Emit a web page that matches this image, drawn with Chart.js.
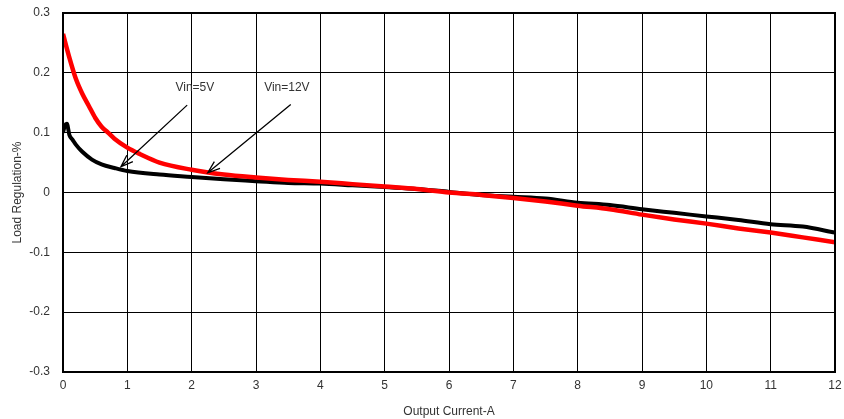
<!DOCTYPE html>
<html>
<head>
<meta charset="utf-8">
<script src="https://cdn.jsdelivr.net/npm/chart.js@4/dist/chart.umd.min.js"></script>
<style>
  html, body { margin: 0; padding: 0; background: #fff; }
  #wrap { width: 844px; height: 419px; }
</style>
</head>
<body>
<div id="wrap"><canvas id="regChart" width="844" height="419"></canvas></div>
<script>
// ---- Daten ----
const current5V = [0, 0.03, 0.06, 0.1, 0.15, 0.2, 0.3, 0.45, 0.6, 0.8, 1.0, 1.5, 2, 2.5, 3, 3.5, 4, 4.5, 5, 5.5, 6, 6.5, 7, 7.5, 8, 8.5, 9, 9.5, 10, 10.5, 11, 11.5, 12];
const reg5V = [0.100, 0.112, 0.115, 0.096, 0.088, 0.080, 0.068, 0.055, 0.047, 0.041, 0.036, 0.030, 0.026, 0.022, 0.019, 0.016, 0.015, 0.012, 0.009, 0.006, 0.001, -0.004, -0.007, -0.010, -0.017, -0.021, -0.028, -0.034, -0.040, -0.046, -0.053, -0.057, -0.067];

const current12V = [0, 0.1, 0.2, 0.3, 0.4, 0.5, 0.6, 0.7, 0.8, 1.0, 1.2, 1.5, 2, 2.5, 3, 3.5, 4, 4.5, 5, 5.5, 6, 6.5, 7, 7.5, 8, 8.5, 9, 9.5, 10, 10.5, 11, 11.5, 12];
const reg12V = [0.265, 0.225, 0.190, 0.165, 0.145, 0.125, 0.110, 0.100, 0.090, 0.075, 0.064, 0.050, 0.038, 0.030, 0.025, 0.021, 0.018, 0.014, 0.010, 0.006, 0.000, -0.004, -0.009, -0.015, -0.022, -0.028, -0.037, -0.045, -0.052, -0.060, -0.067, -0.075, -0.083];

const xTicks = [0, 1, 2, 3, 4, 5, 6, 7, 8, 9, 10, 11, 12];
const yTicks = [-0.3, -0.2, -0.1, 0, 0.1, 0.2, 0.3];

// Beschriftungen mit Pfeil: Text-Position und Pfeil von -> nach (Datenkoordinaten)
const notes = [
    { text: 'Vin=5V', tx: 2.05, ty: 0.175, from: [1.93, 0.146], to: [0.90, 0.043] },
    { text: 'Vin=12V', tx: 3.48, ty: 0.175, from: [3.54, 0.147], to: [2.25, 0.033] }
];

const toXY = (xs, ys) => xs.map((x, i) => ({ x: x, y: ys[i] }));

// ---- Plugin fuer Rahmen und Pfeile ----
const notesPlugin = {
    id: 'notes',
    afterDatasetsDraw(chart) {
        const ctx = chart.ctx;
        const sx = chart.scales.x, sy = chart.scales.y;
        const a = chart.chartArea;
        ctx.save();
        ctx.strokeStyle = '#000';
        ctx.lineWidth = 2;
        ctx.strokeRect(a.left, a.top, a.right - a.left, a.bottom - a.top);

        notes.forEach(n => {
            const x1 = sx.getPixelForValue(n.from[0]), y1 = sy.getPixelForValue(n.from[1]);
            const x2 = sx.getPixelForValue(n.to[0]), y2 = sy.getPixelForValue(n.to[1]);
            ctx.lineWidth = 1.3;
            ctx.beginPath();
            ctx.moveTo(x1, y1);
            ctx.lineTo(x2, y2);
            const ang = Math.atan2(y1 - y2, x1 - x2);
            const len = 13, spread = 0.35;
            ctx.moveTo(x2 + len * Math.cos(ang - spread), y2 + len * Math.sin(ang - spread));
            ctx.lineTo(x2, y2);
            ctx.lineTo(x2 + len * Math.cos(ang + spread), y2 + len * Math.sin(ang + spread));
            ctx.stroke();

            ctx.fillStyle = '#333';
            ctx.font = '12px "Liberation Sans", Arial, sans-serif';
            ctx.textAlign = 'center';
            ctx.textBaseline = 'middle';
            ctx.fillText(n.text, sx.getPixelForValue(n.tx), sy.getPixelForValue(n.ty));
        });
        ctx.restore();
    }
};

Chart.defaults.font.family = '"Liberation Sans", Arial, sans-serif';
Chart.defaults.color = '#333';

const noPad = s => { s.paddingTop = 0; s.paddingBottom = 0; s.paddingLeft = 0; s.paddingRight = 0; };

new Chart(document.getElementById('regChart').getContext('2d'), {
    type: 'scatter',
    data: {
        datasets: [
            {
                label: 'Vin=12V',
                data: toXY(current12V, reg12V),
                showLine: true,
                borderColor: '#ff0000',
                borderWidth: 4.5,
                pointRadius: 0,
                cubicInterpolationMode: 'monotone'
            },
            {
                label: 'Vin=5V',
                data: toXY(current5V, reg5V),
                showLine: true,
                borderColor: '#000000',
                borderWidth: 4,
                pointRadius: 0,
                cubicInterpolationMode: 'monotone'
            }
        ]
    },
    options: {
        responsive: false,
        animation: false,
        layout: { padding: { top: 13, right: 9, left: 0, bottom: 0 } },
        plugins: { legend: { display: false }, tooltip: { enabled: false } },
        scales: {
            x: {
                type: 'linear',
                min: 0, max: 12,
                afterBuildTicks: s => { s.ticks = xTicks.map(v => ({ value: v })); },
                afterFit: s => { s.height = 47; noPad(s); },
                grid: { color: '#000', lineWidth: 1, drawTicks: false },
                border: { display: false },
                ticks: { padding: 6, font: { size: 12 }, color: '#333', maxRotation: 0 },
                title: { display: true, text: 'Output Current-A', font: { size: 12 }, color: '#333', padding: { top: 4, bottom: 0 } }
            },
            y: {
                type: 'linear',
                min: -0.3, max: 0.3,
                afterBuildTicks: s => { s.ticks = yTicks.map(v => ({ value: v })); },
                afterFit: s => { s.width = 63; noPad(s); },
                grid: { color: '#000', lineWidth: 1, drawTicks: false },
                border: { display: false },
                ticks: { padding: 13, font: { size: 12 }, color: '#333', callback: v => String(Math.round(v * 10) / 10) },
                title: { display: true, text: 'Load Regulation-%', font: { size: 12 }, color: '#333', padding: { top: 10, bottom: 4 } }
            }
        }
    },
    plugins: [notesPlugin]
});
</script>
</body>
</html>
